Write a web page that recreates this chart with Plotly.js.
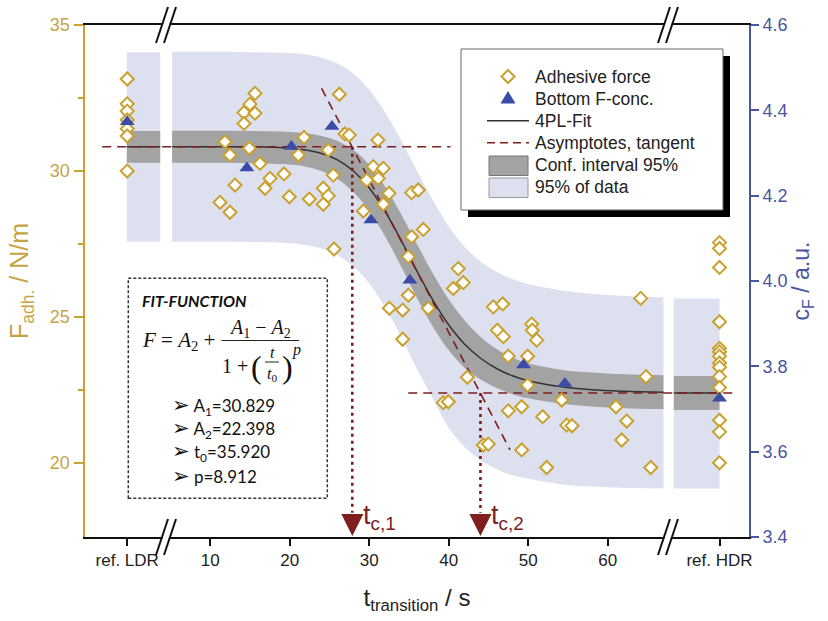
<!DOCTYPE html>
<html><head><meta charset="utf-8">
<script src="https://cdn.plot.ly/plotly-3.0.1.min.js"></script>
<style>html,body{margin:0;padding:0;background:#fff;} #chart{width:828px;height:621px;}</style>
</head><body><div id="chart"></div>
<script>
// ---------- data ----------
const ldrPos = -0.45;            // position of "ref. LDR" on the broken time axis
const hdrPos = 74.05;            // position of "ref. HDR"
const xTickVals = [ldrPos, 10, 20, 30, 40, 50, 60, hdrPos];
const xTickText = ["ref. LDR", "10", "20", "30", "40", "50", "60", "ref. HDR"];

// Adhesive force F (N/m) vs transition time t (s)
const forceT = [11.85,12.48,14.91,15.62,14.99,14.24,15.62,14.24,16.26,13.11,
  11.22,12.48,17.51,16.88,19.27,19.94,21.79,21.07,22.45,24.21,
  24.84,24.21,24.84,25.47,26.23,26.94,27.48,25.56,29.25,30.50,
  31.09,31.76,29.67,31.13,32.48,31.76,35.33,36.16,35.33,36.79,
  34.91,41.19,40.57,41.82,34.91,32.52,34.20,37.42,34.20,45.60,
  46.78,46.10,46.86,50.43,50.50,51.06,47.48,49.92,42.33,49.92,
  54.20,39.31,39.94,47.48,49.17,51.81,54.83,55.50,44.34,44.97,
  49.17,52.31,64.14,64.81,61.03,62.38,61.75,65.40];
const forceF = [31.00,30.55,30.78,32.66,32.29,32.00,31.98,31.63,30.26,29.52,
  28.93,28.59,29.75,29.41,29.90,29.12,31.15,30.55,29.04,29.41,
  29.15,28.86,30.72,29.86,32.63,31.27,31.23,27.33,28.63,30.15,
  31.06,30.09,29.69,29.75,29.24,28.86,29.26,29.35,27.75,28.00,
  27.07,26.66,25.98,26.18,25.75,25.30,25.24,25.30,24.24,25.35,
  25.45,24.55,24.33,24.76,24.55,24.21,23.66,23.66,22.94,22.67,
  22.16,22.07,22.10,21.79,21.93,21.59,21.30,21.28,20.62,20.65,
  20.45,19.85,25.64,22.96,21.93,21.44,20.79,19.85];
const ldrForce = [33.15, 32.30, 32.05, 31.75, 31.45, 31.20, 30.00];
const hdrForce = [27.55, 27.35, 26.70, 24.84, 23.93, 23.81, 23.66, 23.43, 23.28, 22.96, 22.59, 21.47, 21.07, 20.01];

// Bottom F-concentration c_F (a.u.)
const concT = [14.6, 20.2, 25.3, 30.2, 35.1, 49.4, 54.6];
const concC = [4.265, 4.315, 4.362, 4.143, 4.002, 3.803, 3.760];
const ldrConc = [4.373];
const hdrConc = [3.725];

// 4PL fit curve, 95% confidence band and 95% data band
const fitT   = [5.2,10,15,20,22,24,26,28,30,32,34,36,38,40,42,44,46,48,50,54,58,62,67];
const fitF   = [30.83,30.83,30.83,30.78,30.72,30.60,30.38,30.00,29.42,28.61,27.63,26.57,25.58,24.73,24.07,23.59,23.24,22.99,22.82,22.62,22.51,22.46,22.43];
const ciHigh = [31.38,31.38,31.37,31.34,31.29,31.20,31.03,30.72,30.21,29.46,28.53,27.49,26.49,25.60,24.88,24.32,23.91,23.62,23.42,23.20,23.10,23.04,23.01];
const ciLow  = [30.28,30.28,30.27,30.22,30.15,30.00,29.73,29.28,28.63,27.76,26.73,25.65,24.67,23.86,23.26,22.86,22.57,22.36,22.22,22.04,21.94,21.88,21.85];
const pbHigh = [34.08,34.08,34.07,34.04,33.99,33.88,33.68,33.33,32.78,32.00,31.05,30.00,29.00,28.10,27.40,26.90,26.55,26.30,26.13,25.92,25.80,25.72,25.68];
const pbLow  = [27.58,27.58,27.57,27.53,27.47,27.35,27.12,26.73,26.15,25.33,24.33,23.22,22.20,21.20,20.55,20.10,19.80,19.58,19.47,19.28,19.20,19.16,19.14];

const ldrBandT = [-0.5, 3.7];
const hdrBandT = [68.3, 74.05];
const ldrFit = 30.83, ldrCI = [30.28, 31.37], ldrPB = [27.58, 34.07];
const hdrFit = 22.40, hdrCI = [21.82, 22.98], hdrPB = [19.13, 25.64];

// fit parameters, asymptotes and tangent
const A1 = 30.829, A2 = 22.398;
const upperAsymT = [-3.6, 40.2];
const lowerAsymT = [34.9, 76.3];
const tangentT = [24.0, 47.7];
const tangentF = [32.83, 20.45];
const tc = [27.86, 43.98];
const tcLabels = ["t<sub>c,1</sub>", "t<sub>c,2</sub>"];
const fitParams = ["A<sub>1</sub>=30.829", "A<sub>2</sub>=22.398", "t<sub>0</sub>=35.920", "p=8.912"];
const legendLabels = ["Adhesive force", "Bottom F-conc.", "4PL-Fit", "Asymptotes, tangent", "Conf. interval 95%", "95% of data"];

// ---------- style ----------
const GOLD = '#C9A12E', GOLDTXT = '#C6A445', BLUE = '#4A559F', TRI = '#3B4BA6';
const DRED = '#7E1E1E', LBLUE = '#DDE0EF', GREY = '#A3A3A3', FITC = '#333333';
const SANS = '"Liberation Sans", Arial, sans-serif';
const Y0 = 17.47;

const P = {l: 85, t: 25, w: 664, h: 512};
const fx = x => (x - P.l) / P.w;
const fy = y => (P.t + P.h - y) / P.h;

function band(xs, lo, hi, color) {
  return [
    {x: xs, y: lo, mode: 'lines', line: {width: 0, shape: 'spline'}, hoverinfo: 'skip', showlegend: false},
    {x: xs, y: hi, mode: 'lines', line: {width: 0, shape: 'spline'}, fill: 'tonexty', fillcolor: color, hoverinfo: 'skip', showlegend: false}
  ];
}
const two = v => [v, v];

const traces = [
  ...band(fitT, pbLow, pbHigh, LBLUE),
  ...band(ldrBandT, two(ldrPB[0]), two(ldrPB[1]), LBLUE),
  ...band(hdrBandT, two(hdrPB[0]), two(hdrPB[1]), LBLUE),
  ...band(fitT, ciLow, ciHigh, GREY),
  ...band(ldrBandT, two(ldrCI[0]), two(ldrCI[1]), GREY),
  ...band(hdrBandT, two(hdrCI[0]), two(hdrCI[1]), GREY),
  {x: fitT, y: fitF, mode: 'lines', line: {color: FITC, width: 1.5, shape: 'spline'}, showlegend: false},
  {x: ldrBandT, y: two(ldrFit), mode: 'lines', line: {color: FITC, width: 1.5}, showlegend: false},
  {x: hdrBandT, y: two(hdrFit), mode: 'lines', line: {color: FITC, width: 1.5}, showlegend: false},
  {x: upperAsymT, y: two(A1), mode: 'lines', line: {color: DRED, width: 1.6, dash: '9px,6px'}, showlegend: false},
  {x: lowerAsymT, y: two(A2), mode: 'lines', line: {color: DRED, width: 1.6, dash: '9px,6px'}, showlegend: false},
  {x: tangentT, y: tangentF, mode: 'lines', line: {color: DRED, width: 1.6, dash: '9px,6px'}, showlegend: false},
  {x: two(tc[0]), y: [A1, 18.3], mode: 'lines', line: {color: DRED, width: 2.6, dash: '3px,4px'}, showlegend: false},
  {x: two(tc[1]), y: [A2, 18.3], mode: 'lines', line: {color: DRED, width: 2.6, dash: '3px,4px'}, showlegend: false},
  {x: [...ldrForce.map(() => ldrPos), ...forceT, ...hdrForce.map(() => hdrPos)],
   y: [...ldrForce, ...forceF, ...hdrForce],
   mode: 'markers', name: 'Adhesive force', showlegend: false, cliponaxis: false,
   marker: {symbol: 'diamond', size: 10, color: '#ffffff', line: {color: GOLD, width: 2}}},
  {x: [ldrPos, ...concT, hdrPos], y: [...ldrConc, ...concC, ...hdrConc], yaxis: 'y2',
   mode: 'markers', name: 'Bottom F-conc.', showlegend: false, cliponaxis: false,
   marker: {symbol: 'triangle-up', size: 13, color: TRI}}
];

// ---------- shapes ----------
const shapes = [];
// axis breaks
[4.43, 67.57].forEach(bx => {
  [0, 1].forEach(ya => {
    shapes.push({type: 'line', layer: 'above', xref: 'x', yref: 'paper', xsizemode: 'pixel', ysizemode: 'pixel',
      xanchor: bx, yanchor: ya, x0: -6, y0: -17, x1: 6, y1: 17, line: {color: '#ffffff', width: 6}});
    [-4, 4].forEach(o => shapes.push({type: 'line', layer: 'above', xref: 'x', yref: 'paper', xsizemode: 'pixel', ysizemode: 'pixel',
      xanchor: bx, yanchor: ya, x0: o - 6, y0: -18, x1: o + 6, y1: 18, line: {color: '#111111', width: 2}}));
  });
});
// legend box with shadow
shapes.push({type: 'rect', layer: 'above', xref: 'paper', yref: 'paper', x0: fx(468), x1: fx(730), y0: fy(217), y1: fy(56), fillcolor: '#000', line: {width: 0}});
shapes.push({type: 'rect', layer: 'above', xref: 'paper', yref: 'paper', x0: fx(461), x1: fx(723), y0: fy(210), y1: fy(49), fillcolor: '#fff', line: {color: '#666', width: 1}});
const lx = 508;
shapes.push({type: 'path', layer: 'above', xref: 'paper', yref: 'paper',
  path: `M${fx(lx)},${fy(70)} L${fx(lx+6.5)},${fy(76.5)} L${fx(lx)},${fy(83)} L${fx(lx-6.5)},${fy(76.5)} Z`,
  fillcolor: '#fff', line: {color: GOLD, width: 2}});
shapes.push({type: 'path', layer: 'above', xref: 'paper', yref: 'paper',
  path: `M${fx(lx-7.5)},${fy(103.5)} L${fx(lx+7.5)},${fy(103.5)} L${fx(lx)},${fy(91)} Z`,
  fillcolor: TRI, line: {width: 0}});
shapes.push({type: 'line', layer: 'above', xref: 'paper', yref: 'paper', x0: fx(487), x1: fx(529), y0: fy(120.7), y1: fy(120.7), line: {color: FITC, width: 1.5}});
shapes.push({type: 'line', layer: 'above', xref: 'paper', yref: 'paper', x0: fx(487), x1: fx(529), y0: fy(142.8), y1: fy(142.8), line: {color: DRED, width: 1.6, dash: '8px,5px'}});
shapes.push({type: 'rect', layer: 'above', xref: 'paper', yref: 'paper', x0: fx(489), x1: fx(528), y0: fy(175.5), y1: fy(156), fillcolor: GREY, line: {color: '#777', width: 1}});
shapes.push({type: 'rect', layer: 'above', xref: 'paper', yref: 'paper', x0: fx(489), x1: fx(528), y0: fy(197.5), y1: fy(178), fillcolor: LBLUE, line: {color: '#999', width: 1}});
// fit function box
shapes.push({type: 'rect', layer: 'above', xref: 'paper', yref: 'paper', x0: fx(128.3), x1: fx(327.3), y0: fy(498.3), y1: fy(278.3), line: {color: '#333', width: 1.5, dash: '3px,2px'}});
shapes.push({type: 'line', layer: 'above', xref: 'paper', yref: 'paper', x0: fx(221.5), x1: fx(299), y0: fy(340.5), y1: fy(340.5), line: {color: '#222', width: 1.2}});
shapes.push({type: 'line', layer: 'above', xref: 'paper', yref: 'paper', x0: fx(265), x1: fx(279), y0: fy(362), y1: fy(362), line: {color: '#222', width: 1}});

// ---------- annotations ----------
const ann = [];
const pa = (x, y, text, o) => Object.assign({xref: 'paper', yref: 'paper', x: fx(x), y: fy(y), text, showarrow: false,
  xanchor: 'left', yanchor: 'middle'}, o || {});
legendLabels.forEach((t, i) => ann.push(pa(533, 76.5 + i * 22.1, t, {font: {family: SANS, size: 17.5, color: '#222'}})));
// arrow heads at t_c
tc.forEach((t, i) => {
  ann.push({x: t, y: Y0 + 0.03, xref: 'x', yref: 'y', text: ' ', showarrow: true, ax: 0, ay: -24, arrowhead: 2,
    arrowsize: 2.2, arrowwidth: 2, arrowcolor: DRED, standoff: 0});
  ann.push({x: t, y: 18.15, xref: 'x', yref: 'y', text: tcLabels[i], showarrow: false, xanchor: 'left', yanchor: 'middle',
    xshift: 9, font: {family: SANS, size: 27, color: DRED}});
});
// fit function text
const SERIF = '"Liberation Serif", "DejaVu Serif", serif';
const CAL = 'Lato, "DejaVu Sans", sans-serif';
ann.push(pa(140, 300, '<b><i>FIT-FUNCTION</i></b>', {font: {family: CAL, size: 16, color: '#111'}}));
ann.push(pa(140, 341, '<i>F</i> = <i>A</i><sub>2</sub> +', {font: {family: SERIF, size: 21, color: '#111'}}));
ann.push(pa(260, 328, '<i>A</i><sub>1</sub> − <i>A</i><sub>2</sub>', {xanchor: 'center', font: {family: SERIF, size: 20, color: '#111'}}));
ann.push(pa(220, 366, '1 +', {font: {family: SERIF, size: 20, color: '#111'}}));
ann.push(pa(256, 367, '(', {xanchor: 'center', font: {family: SERIF, size: 32, color: '#111'}}));
ann.push(pa(272, 352, '<i>t</i>', {xanchor: 'center', font: {family: SERIF, size: 16, color: '#111'}}));
ann.push(pa(272, 374, '<i>t</i><sub>0</sub>', {xanchor: 'center', font: {family: SERIF, size: 16, color: '#111'}}));
ann.push(pa(287, 367, ')', {xanchor: 'center', font: {family: SERIF, size: 32, color: '#111'}}));
ann.push(pa(290, 350, '<i>p</i>', {font: {family: SERIF, size: 16, color: '#111'}}));
fitParams.forEach((t, i) => ann.push(pa(170, 405 + i * 23,
  '<span style="font-size:21px">➢</span> ' + t, {font: {family: CAL, size: 17, color: '#111'}})));

const layout = {
  width: 828, height: 621,
  margin: {l: P.l, r: 828 - P.l - P.w, t: P.t, b: 621 - P.t - P.h},
  paper_bgcolor: '#fff', plot_bgcolor: '#fff',
  showlegend: false,
  font: {family: SANS},
  xaxis: {range: [-5.76, 77.76], tickmode: 'array', tickvals: xTickVals, ticktext: xTickText,
    ticks: 'outside', ticklen: 7, tickwidth: 2, tickcolor: '#111', showline: true, linecolor: '#111', linewidth: 2,
    mirror: true, showgrid: false, zeroline: false, tickfont: {family: SANS, size: 17, color: '#222'},
    title: {text: 't<sub>transition</sub> / s', font: {family: SANS, size: 24, color: '#222'}, standoff: 20}},
  yaxis: {range: [Y0, 35], tickmode: 'array', tickvals: [20, 25, 30, 35], ticks: 'outside', ticklen: 9, tickwidth: 2,
    tickcolor: GOLD, showline: true, linecolor: GOLD, linewidth: 2.5, showgrid: false, zeroline: false,
    minor: {tickmode: 'array', tickvals: [22.5, 27.5, 32.5], ticks: 'outside', ticklen: 5, tickwidth: 2, tickcolor: GOLD},
    tickfont: {family: SANS, size: 18, color: GOLDTXT},
    title: {text: 'F<sub>adh.</sub> / N/m', font: {family: SANS, size: 25, color: GOLDTXT}, standoff: 14}},
  yaxis2: {overlaying: 'y', side: 'right', range: [3.4, 4.6], tickmode: 'linear', tick0: 3.4, dtick: 0.2, tickformat: '.1f',
    ticks: 'outside', ticklen: 8, tickwidth: 2, tickcolor: BLUE, showline: true, linecolor: BLUE, linewidth: 2,
    showgrid: false, zeroline: false, tickfont: {family: SANS, size: 18, color: BLUE},
    title: {text: 'c<sub>F</sub> / a.u.', font: {family: SANS, size: 23, color: BLUE}, standoff: 6}},
  shapes, annotations: ann
};

Plotly.newPlot('chart', traces, layout, {staticPlot: true, displayModeBar: false});
</script></body></html>
